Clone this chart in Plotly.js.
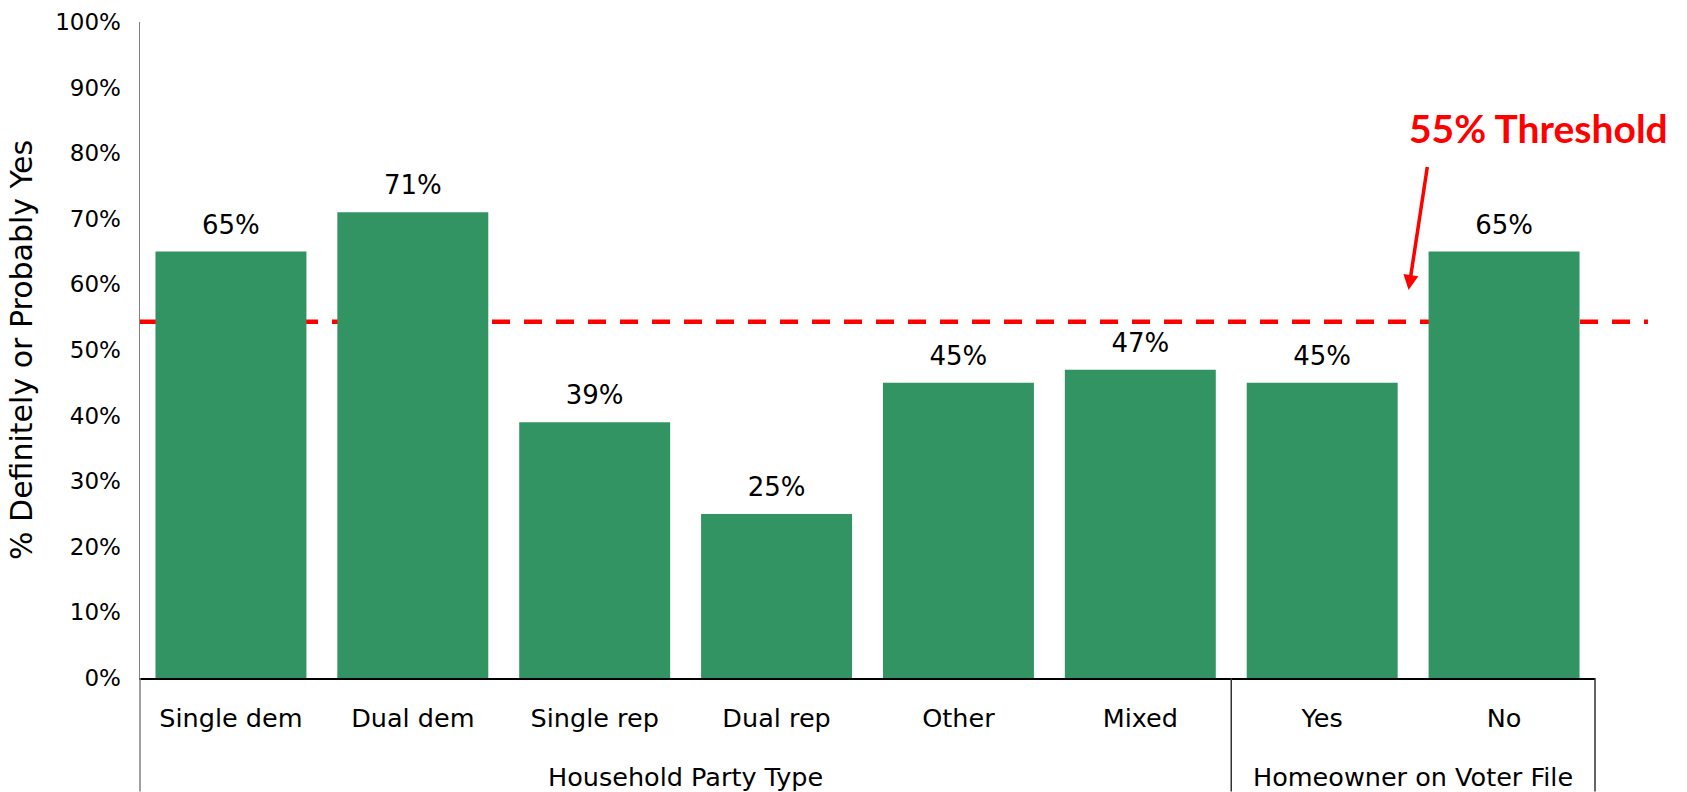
<!DOCTYPE html>
<html>
<head>
<meta charset="utf-8">
<script src="https://cdn.plot.ly/plotly-3.0.1.min.js"></script>
<style>
  html, body { margin: 0; padding: 0; background: #ffffff; }
  #chart { width: 1687px; height: 792px; }
</style>
</head>
<body>
<div id="chart"></div>
<script>
// ---- Data ----
const categories = ["Single dem", "Dual dem", "Single rep", "Dual rep", "Other", "Mixed", "Yes", "No"];
const groups = ["Household Party Type", "Household Party Type", "Household Party Type",
                "Household Party Type", "Household Party Type", "Household Party Type",
                "Homeowner on Voter File", "Homeowner on Voter File"];
const values = [65, 71, 39, 25, 45, 47, 45, 65];
const valueLabels = values.map(v => v + "%");
const threshold = 54.3;
const thresholdLabel = "55% Threshold";
const yAxisTitle = "% Definitely or Probably Yes";

const FONT = "DejaVu Sans, Verdana, sans-serif";
const GREEN = "#329462";

// group spans (index ranges) derived from the groups array
const groupSpans = [];
groups.forEach((g, i) => {
  const last = groupSpans[groupSpans.length - 1];
  if (last && last.name === g) last.end = i;
  else groupSpans.push({ name: g, start: i, end: i });
});
const nCat = categories.length;
const idxToPaper = i => (i + 0.5) / nCat;   // category index -> paper x (range -0.5..n-0.5)

const bars = {
  type: "bar",
  x: categories,
  y: values,
  marker: { color: GREEN, line: { width: 0 } },
  hoverinfo: "skip",
  showlegend: false
};

const labels = {
  type: "scatter",
  mode: "markers+text",
  x: categories,
  y: values,
  text: valueLabels,
  textposition: "top center",
  textfont: { family: FONT, size: 26, color: "#000000" },
  marker: { size: 16.8, opacity: 0 },
  cliponaxis: false,
  hoverinfo: "skip",
  showlegend: false
};

const DIV_BOTTOM = -0.173;  // paper y of divider bottom (below plot)

const shapes = [
  {
    type: "line",
    xref: "paper", x0: 0, x1: 1.0364,
    yref: "y", y0: threshold, y1: threshold,
    line: { color: "#ff0000", width: 4.5, dash: "18px,14px" },
    layer: "below"
  }
];
// dividers at group boundaries
const bounds = [groupSpans[0].start - 0.5].concat(groupSpans.map(s => s.end + 0.5));
bounds.forEach((b, k) => {
  shapes.push({
    type: "line",
    xref: "paper", x0: idxToPaper(b), x1: idxToPaper(b),
    yref: "paper", y0: 0, y1: DIV_BOTTOM,
    line: { color: k === 0 ? "#808080" : "#333333", width: 1.5 },
    layer: "above"
  });
});

const annotations = groupSpans.map(s => ({
  xref: "x", yref: "paper",
  x: (s.start + s.end) / 2, y: -0.1514,
  xanchor: "center", yanchor: "middle",
  text: s.name,
  font: { family: FONT, size: 25.5, color: "#000000" },
  showarrow: false
}));
annotations.push({
  xref: "paper", yref: "paper",
  x: 0.9615, y: 0.838,
  xanchor: "center", yanchor: "middle",
  text: "<b>" + thresholdLabel + "</b>",
  font: { family: "Lato, Open Sans, sans-serif", size: 39, color: "#ff0000" },
  showarrow: false
});
annotations.push({
  xref: "paper", yref: "paper",
  x: 0.8719, y: 0.5914,
  text: " ",
  font: { size: 1 },
  showarrow: true,
  arrowhead: 2,
  arrowwidth: 3.5,
  arrowsize: 0.86,
  arrowcolor: "#ff0000",
  ax: 19, ay: -125
});

const layout = {
  width: 1687,
  height: 792,
  margin: { l: 140, r: 92, t: 21.5, b: 113.5, pad: 0 },
  paper_bgcolor: "#ffffff",
  plot_bgcolor: "#ffffff",
  bargap: 0.17,
  font: { family: FONT, color: "#000000" },
  xaxis: {
    type: "category",
    range: [-0.5, nCat - 0.5],
    showline: true,
    linecolor: "#000000",
    linewidth: 1.5,
    ticks: "",
    showgrid: false,
    zeroline: false,
    tickfont: { family: FONT, size: 25.5, color: "#000000" },
    ticklabelstandoff: 17
  },
  yaxis: {
    range: [0, 100],
    tickmode: "linear",
    tick0: 0,
    dtick: 10,
    ticksuffix: "%",
    showline: true,
    linecolor: "#808080",
    linewidth: 1.5,
    ticks: "",
    showgrid: false,
    zeroline: false,
    tickfont: { family: FONT, size: 23, color: "#000000" },
    ticklabelstandoff: 13,
    title: { text: yAxisTitle, font: { family: FONT, size: 30, color: "#000000" }, standoff: 13 }
  },
  shapes: shapes,
  annotations: annotations
};

Plotly.newPlot("chart", [bars, labels], layout, { displayModeBar: false, staticPlot: true });
</script>
</body>
</html>
